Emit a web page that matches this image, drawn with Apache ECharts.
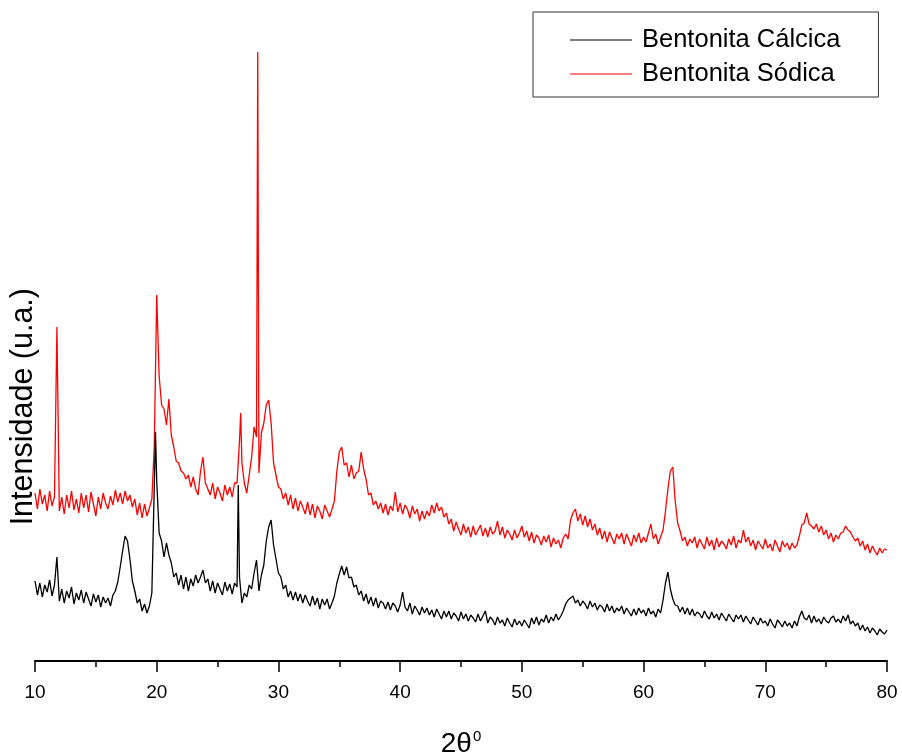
<!DOCTYPE html>
<html>
<head>
<meta charset="utf-8">
<script src="https://cdn.jsdelivr.net/npm/echarts@6/dist/echarts.min.js"></script>
<style>
	html,body{margin:0;padding:0;background:#fff;}
	#chart{width:902px;height:756px;}
</style>
</head>
<body>
<div id="chart"></div>
<script>
//difratogramas, passo de 0.2 graus a partir de 10
var xStart = 10, xStep = 0.2;
var seriesNames = ['Bentonita Cálcica', 'Bentonita Sódica'];
var xTicks = [10, 20, 30, 40, 50, 60, 70, 80];

var calcica = [
	80, 66, 78, 64, 76, 69, 81, 65, 76, 104,
	60, 72, 58, 70, 63, 74, 57, 68, 61, 71,
	58, 69, 62, 55, 67, 59, 66, 54, 64, 58,
	63, 55, 66, 70, 79, 94, 110, 125, 120, 102,
	80, 70, 58, 62, 50, 57, 48, 55, 68, 175,
	180, 128, 120, 104, 118, 106, 98, 84, 88, 76,
	86, 72, 84, 70, 82, 75, 86, 78, 84, 91,
	78, 82, 70, 80, 68, 78, 72, 66, 79, 70,
	77, 67, 78, 74, 84, 58, 68, 64, 76, 72,
	88, 101, 70, 86, 96, 120, 134, 141, 116, 102,
	88, 84, 72, 76, 64, 70, 61, 69, 60, 67,
	58, 66, 60, 55, 65, 56, 63, 52, 62, 56,
	62, 52, 58, 65, 78, 87, 95, 86, 94, 83,
	84, 74, 76, 66, 70, 60, 67, 57, 64, 55,
	63, 53, 60, 58, 52, 59, 51, 58, 55, 49,
	56, 69, 54, 50, 58, 47, 55, 51, 46, 54,
	48, 53, 46, 51, 44, 52, 47, 42, 50, 44,
	50, 42, 48, 45, 40, 49, 42, 47, 40, 46,
	43, 39, 47, 40, 45, 50, 38, 44, 41, 36,
	44, 38, 41, 35, 43, 38, 34, 42, 36, 40,
	35, 41, 37, 33, 43, 37, 44, 36, 42, 39,
	46, 38, 44, 40, 47, 41, 45, 50, 57, 61,
	63, 65, 58, 61, 55, 60, 57, 52, 60, 54,
	58, 51, 56, 54, 49, 57, 50, 55, 48, 53,
	50, 55, 47, 53, 49, 45, 52, 46, 53, 48,
	51, 45, 53, 47, 50, 44, 52, 48, 61, 78,
	89, 72, 62, 56, 55, 49, 54, 47, 53, 46,
	52, 45, 49, 47, 43, 50, 45, 42, 49, 43,
	47, 41, 48, 44, 40, 47, 43, 39, 46, 42,
	46, 39, 45, 41, 37, 44, 40, 36, 43, 38,
	40, 35, 42, 37, 33, 41, 38, 34, 40, 35,
	38, 33, 40, 35, 44, 50, 43, 41, 46, 38,
	45, 39, 42, 37, 44, 40, 38, 43, 45, 39,
	42, 38, 45, 40, 46, 37, 40, 35, 38, 31,
	36, 30, 34, 28, 33, 30, 26, 32, 29, 27,
	31
];
//picos estreitos fora da grade de 0.2
var calcicaPicos = [[19.9, 229], [26.7, 176]];

var sodica = [
	168, 152, 172, 157, 166, 150, 170, 155, 164, 334,
	150, 164, 147, 166, 153, 170, 151, 162, 148, 168,
	153, 166, 149, 169, 157, 145, 164, 152, 168, 158,
	152, 165, 156, 171, 159, 168, 157, 170, 160, 166,
	154, 162, 146, 158, 143, 157, 145, 153, 162, 215,
	366, 285, 256, 252, 236, 262, 226, 214, 200, 198,
	190, 188, 182, 186, 174, 184, 172, 166, 190, 204,
	178, 172, 166, 178, 162, 174, 168, 160, 176, 166,
	174, 164, 178, 178, 220, 198, 178, 168, 186, 204,
	234, 224, 188, 228, 238, 256, 261, 238, 198, 186,
	174, 172, 162, 168, 156, 166, 152, 163, 150, 160,
	154, 147, 159, 146, 157, 143, 155, 150, 142, 156,
	150, 144, 152, 160, 190, 209, 214, 196, 198, 184,
	196, 182, 188, 190, 209, 192, 182, 166, 168, 156,
	160, 152, 158, 148, 157, 146, 155, 150, 169, 149,
	158, 147, 156, 152, 143, 155, 147, 152, 140, 150,
	142, 150, 145, 156, 148, 158, 150, 154, 144, 148,
	137, 142, 130, 139, 132, 126, 137, 128, 134, 124,
	135, 126, 131, 136, 125, 133, 124, 134, 127, 130,
	140, 126, 134, 123, 131, 127, 121, 131, 123, 128,
	135, 124, 130, 120, 129, 118, 126, 123, 116, 125,
	119, 126, 114, 123, 117, 121, 113, 123, 127, 122,
	141, 148, 152, 140, 147, 136, 145, 134, 142, 131,
	137, 126, 133, 122, 130, 119, 129, 123, 117, 127,
	122, 128, 117, 127, 121, 115, 126, 119, 128, 118,
	124, 119, 128, 137, 122, 127, 117, 124, 131, 150,
	172, 190, 194, 160, 138, 130, 120, 124, 115, 122,
	118, 124, 113, 122, 117, 112, 124, 115, 121, 111,
	123, 114, 120, 117, 112, 122, 116, 125, 113, 121,
	118, 131, 119, 124, 115, 121, 111, 120, 116, 112,
	122, 113, 117, 110, 121, 115, 109, 120, 114, 118,
	111, 118, 113, 116, 125, 136, 138, 148, 137, 135,
	132, 137, 129, 135, 126, 131, 122, 128, 119, 126,
	122, 128, 129, 135, 131, 129, 124, 120, 123, 115,
	120, 111, 117, 108, 115, 110, 106, 113, 108, 112,
	111
];
var sodicaPicos = [[26.9, 248], [28.3, 609]];

function montar(base, picos){
	var pts = base.map(function(v, i){
		return [+(xStart + i * xStep).toFixed(1), v];
	});
	pts = pts.concat(picos);
	pts.sort(function(a, b){ return a[0] - b[0]; });
	return pts;
}

var font = '"Liberation Sans", Arial, sans-serif';
var myChart = echarts.init(document.getElementById('chart'));
myChart.setOption({
	animation: false,
	backgroundColor: '#fff',
	grid: {left: 35, right: 15, top: 41, bottom: 95, outerBoundsMode: 'none'},
	legend: {
		orient: 'vertical',
		left: 533,
		top: 12,
		padding: [14, 38, 9, 37],
		itemWidth: 62,
		itemHeight: 1,
		itemGap: 6,
		icon: 'rect',
		borderColor: '#333',
		borderWidth: 1,
		data: seriesNames,
		textStyle: {fontFamily: font, fontSize: 25.5, lineHeight: 28, color: '#000', padding: [0, 0, 0, 5]}
	},
	xAxis: {
		type: 'value',
		min: xTicks[0],
		max: xTicks[xTicks.length - 1],
		interval: 10,
		name: '{a|2θ}{b|0}',
		nameLocation: 'middle',
		nameGap: 68,
		nameTextStyle: {
			rich: {
				a: {fontFamily: font, fontSize: 28, color: '#000'},
				b: {fontFamily: font, fontSize: 15, color: '#000', padding: [0, 0, 16, 1]}
			}
		},
		axisLine: {lineStyle: {color: '#000', width: 2}},
		axisTick: {show: true, length: 11, lineStyle: {color: '#000', width: 1.5}},
		minorTick: {show: true, splitNumber: 2, length: 6, lineStyle: {color: '#000', width: 1.5}},
		axisLabel: {fontFamily: font, fontSize: 19, color: '#000', margin: 22},
		splitLine: {show: false}
	},
	yAxis: {
		type: 'value',
		min: 0,
		max: 620,
		axisLine: {show: false},
		axisTick: {show: false},
		axisLabel: {show: false},
		splitLine: {show: false}
	},
	graphic: [{
		type: 'text',
		left: 8,
		top: 288,
		rotation: Math.PI / 2,
		style: {text: 'Intensidade (u.a.)', fontFamily: font, fontSize: 30.5, fill: '#000'}
	}],
	series: [{
		name: seriesNames[0],
		type: 'line',
		data: montar(calcica, calcicaPicos),
		symbol: 'none',
		lineStyle: {color: '#000', width: 1.3},
		itemStyle: {color: '#000'},
		z: 3
	},{
		name: seriesNames[1],
		type: 'line',
		data: montar(sodica, sodicaPicos),
		symbol: 'none',
		lineStyle: {color: '#ff0000', width: 1.3},
		itemStyle: {color: '#ff0000'},
		z: 2
	}]
});
</script>
</body>
</html>
